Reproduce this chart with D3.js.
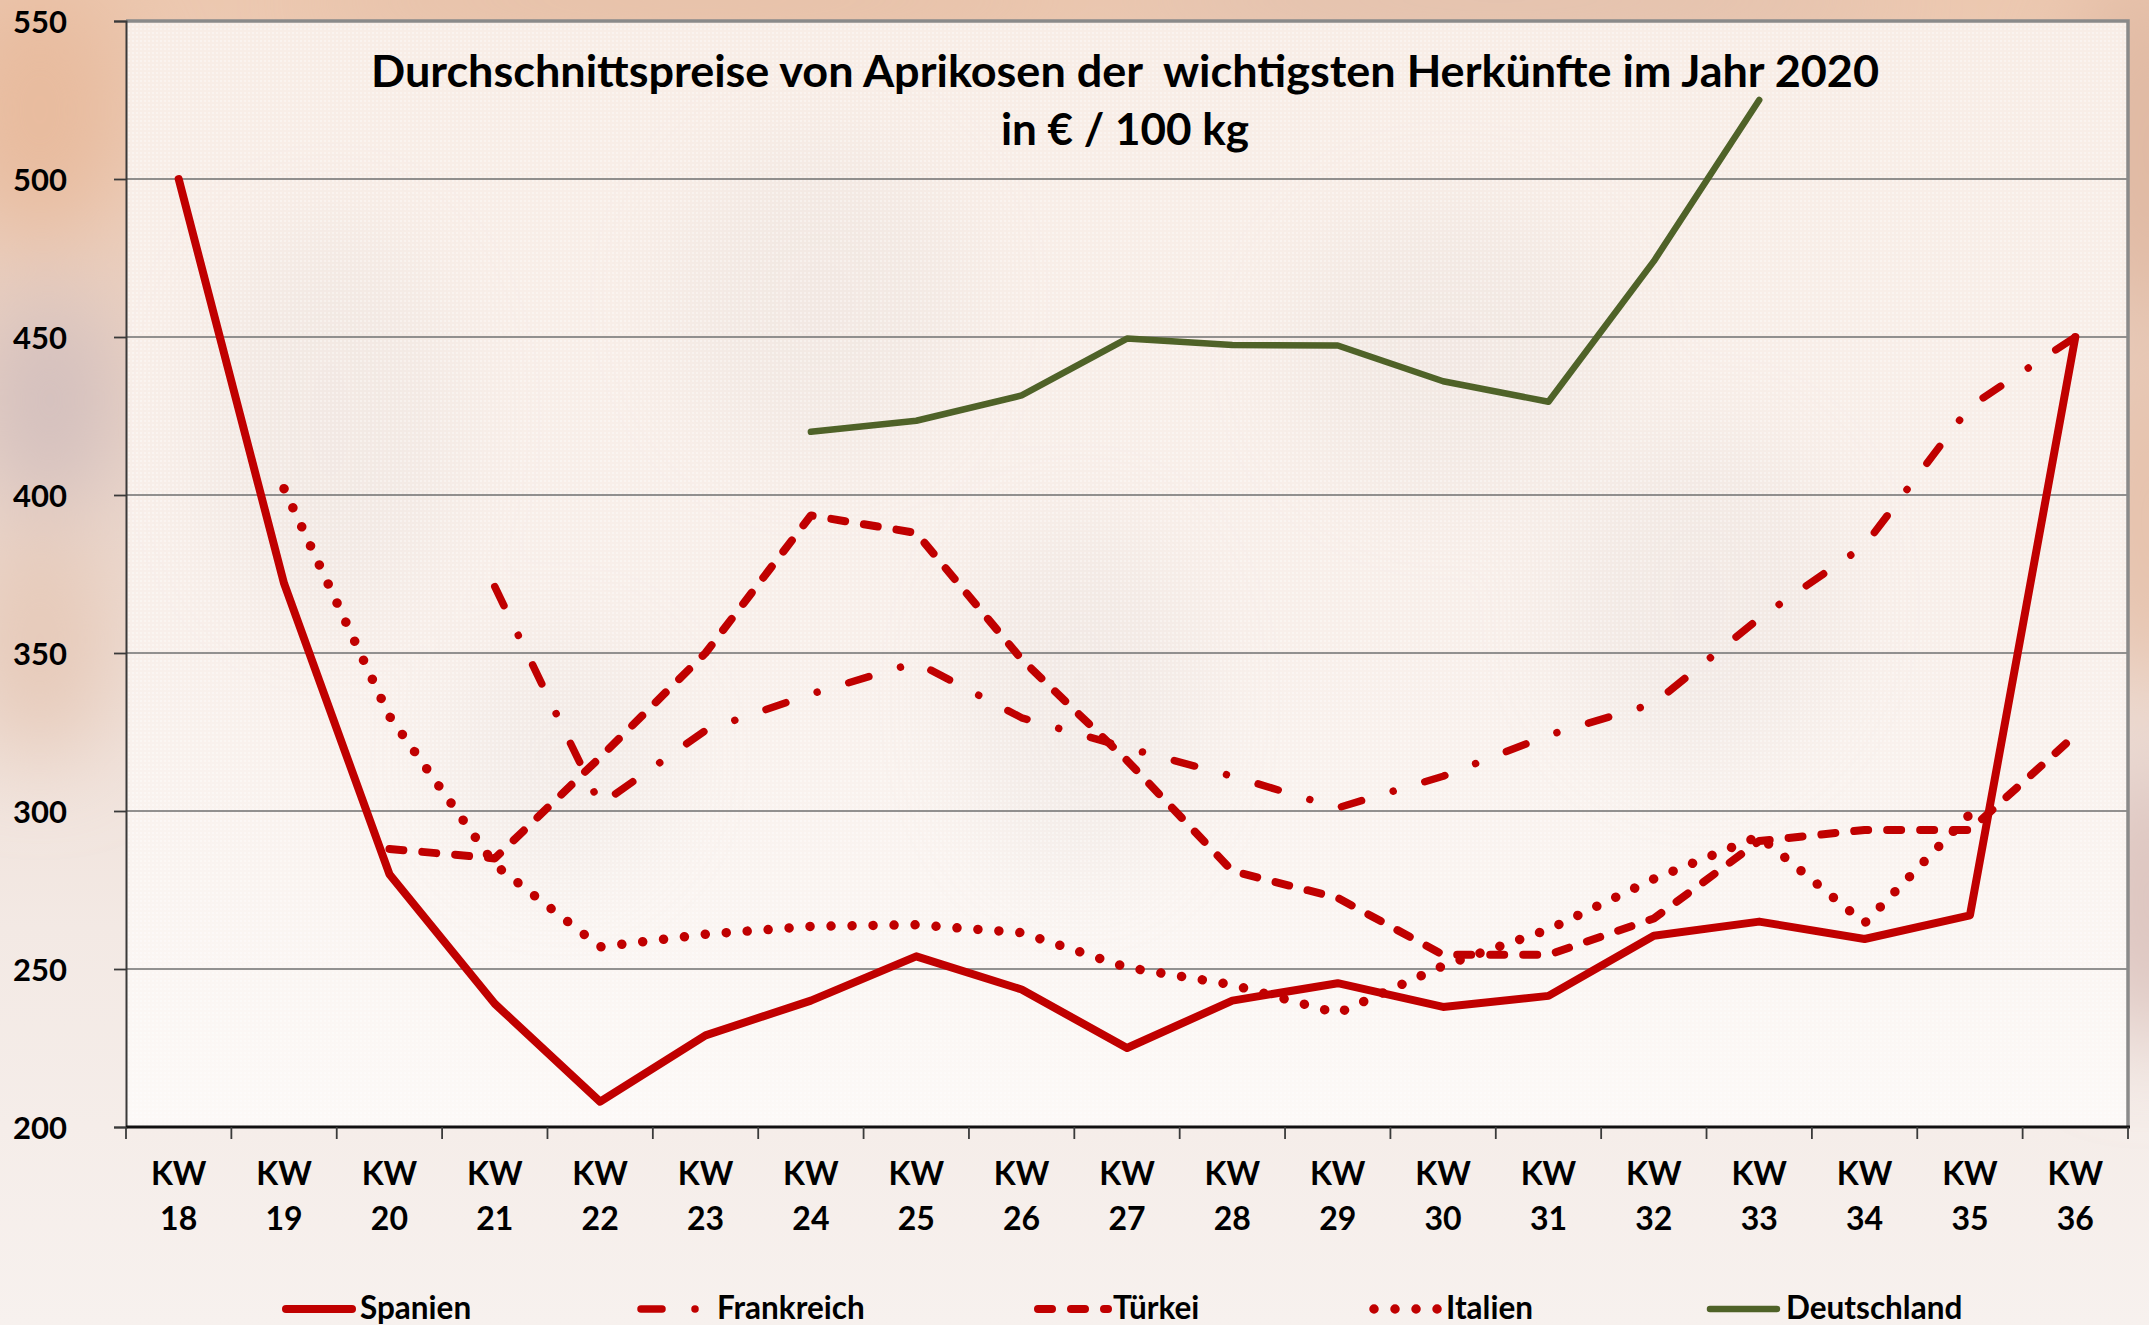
<!DOCTYPE html>
<html>
<head>
<meta charset="utf-8">
<script src="https://cdn.jsdelivr.net/npm/d3@7"></script>
<style>
  html, body { margin: 0; padding: 0; background: #f3e6de; }
  svg { display: block; }
  text { font-family: Lato, "Open Sans", sans-serif; font-weight: 700; fill: #000; }
</style>
</head>
<body>
<div id="chart"></div>
<script>
const weeks = ["18","19","20","21","22","23","24","25","26","27","28","29","30","31","32","33","34","35","36"];

const spanien     = [500, 372, 280, 239, 208, 229, 240, 254, 243.5, 225, 240, 245.5, 238, 241.5, 260.5, 265, 259.5, 267, 450];
const frankreich  = [null, null, null, 371, 302, 325.5, 337, 347, 329.5, 320, 311, 301, 311, 324, 334, 361, 384, 428, 450];
const tuerkei     = [null, null, 288, 285, 317, 350, 393.5, 388, 348, 316, 281, 272.5, 254.5, 254.5, 266, 290.5, 294, 294, 324];
const italien     = [null, 402, 330, 283, 257, 261, 263.5, 264, 261.5, 250.5, 245, 236, 251, 262.5, 278.5, 292, 264.5, 299, null];
const deutschland = [null, null, null, null, null, null, 420, 423.5, 431.5, 449.5, 447.5, 447.3, 436, 429.5, 474, 525, null, null, null];

const yTicks = [200, 250, 300, 350, 400, 450, 500, 550];

const series = [
  { name: "Spanien",     values: spanien,     color: "#c00000", width: 8,   dash: null },
  { name: "Frankreich",  values: frankreich,  color: "#c00000", width: 7.5, dash: "21,33,0.01,33" },
  { name: "Türkei",      values: tuerkei,     color: "#c00000", width: 8,   dash: "14,19" },
  { name: "Italien",     values: italien,     color: "#c00000", width: 9.5, dash: "0.01,21" },
  { name: "Deutschland", values: deutschland, color: "#4f6228", width: 6.5, dash: null }
];

// legend layout: sample start/end and text x
const legendPos = [
  { x0: 286, x1: 352, tx: 360 },
  { x0: 641, x1: 700, tx: 717 },
  { x0: 1038, x1: 1108, tx: 1113 },
  { x0: 1374, x1: 1440, tx: 1446 },
  { x0: 1710, x1: 1777, tx: 1786 }
];

const width = 2149;
const height = 1325;
const plot = { left: 126, right: 2128, top: 21, bottom: 1127 };

const svg = d3.select("#chart").append("svg")
  .attr("width", width)
  .attr("height", height)
  .attr("viewBox", `0 0 ${width} ${height}`);

const defs = svg.append("defs");

const bgGrad = defs.append("linearGradient").attr("id", "bgGrad")
  .attr("x1", "0%").attr("y1", "0%").attr("x2", "0%").attr("y2", "100%");
bgGrad.append("stop").attr("offset", "0%").attr("stop-color", "#ecc8b0");
bgGrad.append("stop").attr("offset", "35%").attr("stop-color", "#ead5ca");
bgGrad.append("stop").attr("offset", "70%").attr("stop-color", "#f3e9e4");
bgGrad.append("stop").attr("offset", "100%").attr("stop-color", "#f7f1ee");

const plotGrad = defs.append("linearGradient").attr("id", "plotGrad")
  .attr("x1", "0%").attr("y1", "0%").attr("x2", "0%").attr("y2", "100%");
plotGrad.append("stop").attr("offset", "0%").attr("stop-color", "#f8ede6");
plotGrad.append("stop").attr("offset", "55%").attr("stop-color", "#f8efea");
plotGrad.append("stop").attr("offset", "100%").attr("stop-color", "#fcf9f7");

defs.append("filter").attr("id", "blur")
  .attr("x", "-50%").attr("y", "-50%").attr("width", "200%").attr("height", "200%")
  .append("feGaussianBlur").attr("stdDeviation", 45);

const dots = defs.append("pattern").attr("id", "dots")
  .attr("width", 4).attr("height", 4).attr("patternUnits", "userSpaceOnUse");
dots.append("rect").attr("width", 2).attr("height", 2).attr("fill", "#ffffff").attr("opacity", 0.35);

// background (blurred apricot photo look)
svg.append("rect").attr("width", width).attr("height", height).attr("fill", "url(#bgGrad)");
const blobs = [
  { x: 40, y: 110, rx: 90, ry: 130, c: "#e8bb9e" },
  { x: 50, y: 400, rx: 70, ry: 110, c: "#d3bfbd" },
  { x: 40, y: 640, rx: 70, ry: 120, c: "#e6c9b8" },
  { x: 2150, y: 150, rx: 80, ry: 180, c: "#e0b9a3" },
  { x: 2150, y: 520, rx: 70, ry: 180, c: "#e6c1aa" },
  { x: 2150, y: 900, rx: 70, ry: 150, c: "#dcc3bd" },
  { x: 700, y: 0, rx: 400, ry: 30, c: "#e4bea6" },
  { x: 1500, y: 0, rx: 400, ry: 30, c: "#dfbfae" }
];
svg.append("g").attr("filter", "url(#blur)")
  .selectAll("ellipse").data(blobs).join("ellipse")
  .attr("cx", d => d.x).attr("cy", d => d.y)
  .attr("rx", d => d.rx).attr("ry", d => d.ry)
  .attr("fill", d => d.c);

// plot area
svg.append("rect")
  .attr("x", plot.left).attr("y", plot.top)
  .attr("width", plot.right - plot.left).attr("height", plot.bottom - plot.top)
  .attr("fill", "url(#plotGrad)");
const shades = [
  { x: 330, y: 420, rx: 130, ry: 200 }, { x: 820, y: 300, rx: 150, ry: 160 },
  { x: 1080, y: 700, rx: 120, ry: 180 }, { x: 1450, y: 350, rx: 160, ry: 150 },
  { x: 1700, y: 600, rx: 140, ry: 170 }, { x: 560, y: 760, rx: 110, ry: 120 }
];
svg.append("g").attr("filter", "url(#blur)").attr("opacity", 0.18)
  .selectAll("ellipse").data(shades).join("ellipse")
  .attr("cx", d => d.x).attr("cy", d => d.y)
  .attr("rx", d => d.rx).attr("ry", d => d.ry)
  .attr("fill", "#d9d2cf");
svg.append("rect")
  .attr("x", plot.left).attr("y", plot.top)
  .attr("width", plot.right - plot.left).attr("height", plot.bottom - plot.top)
  .attr("fill", "url(#dots)");

const x = d3.scaleBand().domain(weeks).range([plot.left, plot.right]);
const xc = w => x(w) + x.bandwidth() / 2;
const y = d3.scaleLinear().domain([200, 550]).range([plot.bottom, plot.top]);

// gridlines
svg.append("g")
  .selectAll("line").data(yTicks.filter(v => v > 200 && v < 550)).join("line")
  .attr("x1", plot.left).attr("x2", plot.right)
  .attr("y1", d => y(d)).attr("y2", d => y(d))
  .attr("stroke", "#6f6f6f").attr("stroke-width", 1.6);

// plot border top / right
svg.append("path")
  .attr("d", `M${plot.left},${plot.top}H${plot.right}V${plot.bottom}`)
  .attr("fill", "none").attr("stroke", "#8a8a8a").attr("stroke-width", 3.5);

// y axis
const yAxis = svg.append("g")
  .attr("transform", `translate(${plot.left},0)`)
  .call(d3.axisLeft(y).tickValues(yTicks).tickSize(12).tickPadding(0).tickFormat(d3.format("d")));
yAxis.select(".domain").attr("stroke", "#3a3a3a").attr("stroke-width", 2);
yAxis.selectAll(".tick line").attr("stroke", "#3a3a3a").attr("stroke-width", 1.8);
yAxis.selectAll(".tick text")
  .attr("x", -59).attr("dy", "0.36em")
  .style("font-family", "Lato, sans-serif").style("font-weight", 700)
  .style("font-size", "31px").attr("fill", "#000");

// x axis with ticks between categories
const xAxis = svg.append("g").attr("transform", `translate(0,${plot.bottom})`);
xAxis.append("line")
  .attr("x1", plot.left).attr("x2", plot.right + 2)
  .attr("stroke", "#111").attr("stroke-width", 3);
xAxis.selectAll("line.tk").data(weeks.concat(["end"])).join("line")
  .attr("class", "tk")
  .attr("x1", d => d === "end" ? plot.right : x(d))
  .attr("x2", d => d === "end" ? plot.right : x(d))
  .attr("y1", 0).attr("y2", 12)
  .attr("stroke", "#3a3a3a").attr("stroke-width", 1.8);
const xl = xAxis.selectAll("text.kw").data(weeks).join("text")
  .attr("class", "kw")
  .attr("text-anchor", "middle")
  .style("font-size", "32px");
xl.append("tspan").attr("x", d => xc(d)).attr("y", 58).text("KW");
xl.append("tspan").attr("x", d => xc(d)).attr("y", 103).text(d => d);

// lines
const line = d3.line()
  .defined(d => d.v != null)
  .x(d => xc(d.w))
  .y(d => y(d.v));

svg.append("g")
  .selectAll("path").data(series).join("path")
  .attr("d", s => line(s.values.map((v, i) => ({ w: weeks[i], v }))))
  .attr("fill", "none")
  .attr("stroke", s => s.color)
  .attr("stroke-width", s => s.width)
  .attr("stroke-dasharray", s => s.dash)
  .attr("stroke-linecap", "round")
  .attr("stroke-linejoin", "round");

// title
const title = svg.append("text")
  .attr("text-anchor", "middle")
  .style("font-size", "44px");
title.append("tspan").attr("x", 1125).attr("y", 87)
  .attr("xml:space", "preserve")
  .attr("textLength", 1508).attr("lengthAdjust", "spacingAndGlyphs")
  .text("Durchschnittspreise von Aprikosen der  wichtigsten Herkünfte im Jahr 2020");
title.append("tspan").attr("x", 1125).attr("y", 145).text("in € / 100 kg");

// legend
const legendY = 1309;
const lg = svg.append("g").selectAll("g").data(series).join("g");
lg.append("line")
  .attr("x1", (d, i) => legendPos[i].x0).attr("x2", (d, i) => legendPos[i].x1)
  .attr("y1", legendY).attr("y2", legendY)
  .attr("stroke", d => d.color)
  .attr("stroke-width", d => d.width)
  .attr("stroke-dasharray", d => d.dash)
  .attr("stroke-linecap", "round");
lg.append("text")
  .attr("x", (d, i) => legendPos[i].tx)
  .attr("y", legendY + 10)
  .style("font-size", "31.5px")
  .text(d => d.name);
</script>
</body>
</html>
